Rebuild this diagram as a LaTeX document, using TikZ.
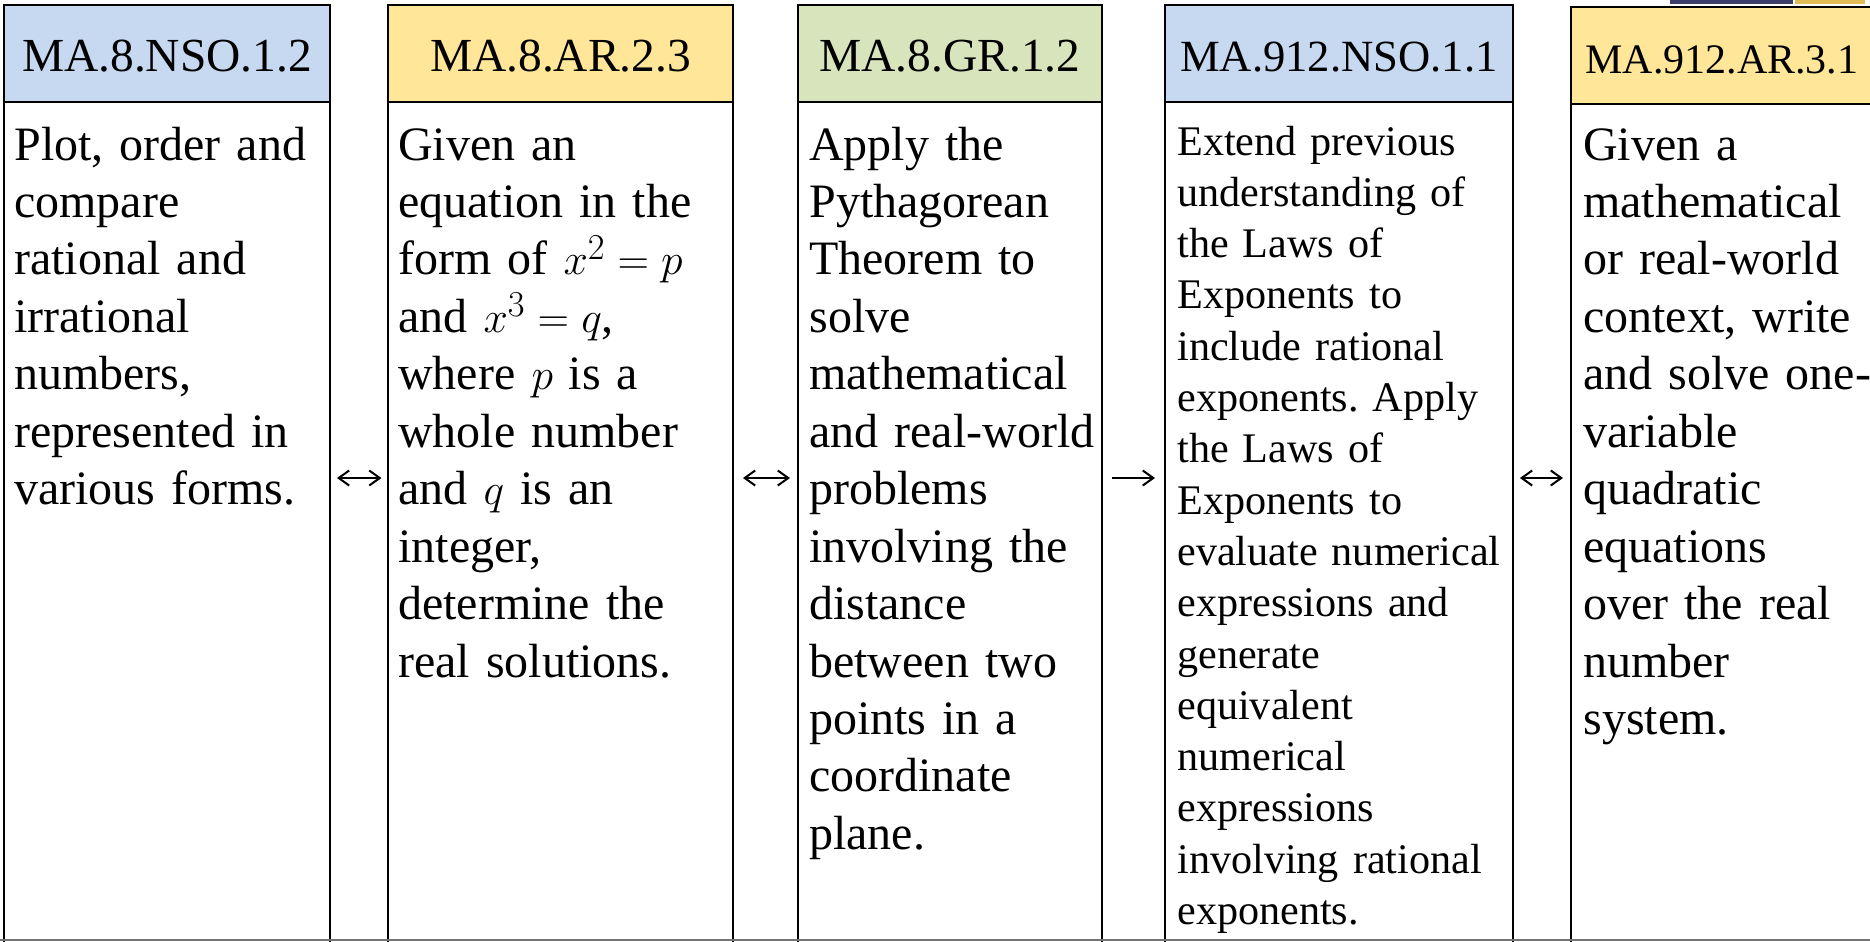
\documentclass[tikz,border=0pt]{standalone}
\usepackage{fontspec}
\setmainfont{Liberation Serif}
\usetikzlibrary{arrows.meta,positioning}
\definecolor{hdblue}{HTML}{C6D9F1}
\definecolor{hdyellow}{HTML}{FFE699}
\definecolor{hdgreen}{HTML}{D8E4BC}
\definecolor{slidenavy}{HTML}{3D3D6B}
\definecolor{slidegold}{HTML}{E0BD57}
\frenchspacing

\begin{document}
\begin{tikzpicture}[x=0.02cm,y=-0.02cm,>={Straight Barb[length=2.1mm,width=3mm]},
  hd/.style={draw,line width=1.3pt,outer sep=0pt,inner sep=0pt,anchor=north west,
    minimum height=1.94cm,text height=0.74cm,text depth=0pt},
  frame/.style={draw,line width=1.3pt,outer sep=0pt,inner sep=0pt,minimum height=16.86cm},
  txt/.style={anchor=base west,inner sep=0pt,align=left,text width=8cm,
    font=\fontsize{27.3}{32.7}\selectfont},
  txtsm/.style={txt,font=\fontsize{24}{29.2}\selectfont},
  arr/.style={line width=1.15pt}]
\path[use as bounding box,clip] (0,0) rectangle (1870,941);
\foreach \n/\x/\y/\w/\c/\fs/\lab in {1/4/5/6.52/hdblue/27/MA.8.NSO.1.2,
    2/388/5/6.90/hdyellow/27/MA.8.AR.2.3, 3/798/5/6.08/hdgreen/27/MA.8.GR.1.2,
    4/1165/5/6.96/hdblue/25.4/MA.912.NSO.1.1, 5/1571/7/6.04/hdyellow/23.9/MA.912.AR.3.1} {
  \node[hd,fill=\c,minimum width=\w cm,font=\fontsize{\fs}{\fs}\selectfont] (h\n) at (\x,\y) {\lab};
  \node[frame,minimum width=\w cm,below=0pt of h\n] (b\n) {};
}
\node[txt] (t1) at (14,160) {Plot, order and\\compare\\rational and\\irrational\\numbers,\\represented in\\various forms.};
\node[txt] (t2) at (398,160) {Given an\\equation in the\\form of $x^2=p$\\and $x^3=q$,\\where $p$ is a\\whole number\\and $q$ is an\\integer,\\determine the\\real solutions.};
\node[txt] (t3) at (809,160) {Apply the\\Pythagorean\\Theorem to\\solve\\mathematical\\and real-world\\problems\\involving the\\distance\\between two\\points in a\\coordinate\\plane.};
\node[txtsm] (t4) at (1177,155) {Extend previous\\understanding of\\the Laws of\\Exponents to\\include rational\\exponents. Apply\\the Laws of\\Exponents to\\evaluate numerical\\expressions and\\generate\\equivalent\\numerical\\expressions\\involving rational\\exponents.};
\node[txt] (t5) at (1583,160) {Given a\\mathematical\\or real-world\\context, write\\and solve one-\\variable\\quadratic\\equations\\over the real\\number\\system.};
% links between the standards
\coordinate (mid) at (0,478);
\draw[arr,<->,shorten <=0.14cm,shorten >=0.13cm] (b1.east |- mid) -- (b2.west |- mid);
\draw[arr,<->,shorten <=0.2cm,shorten >=0.16cm] (b2.east |- mid) -- (b3.west |- mid);
\draw[arr,->,shorten <=0.2cm,shorten >=0.2cm] (b3.east |- mid) -- (b4.west |- mid);
\draw[arr,<->,shorten <=0.14cm,shorten >=0.16cm] (b4.east |- mid) -- (b5.west |- mid);
\draw[black!55,line width=0.04cm] (0,940) -- (1870,940);
\fill[slidenavy] (1670,0) rectangle (1793,4);
\fill[slidegold] (1795,0) rectangle (1865,4);
\end{tikzpicture}
\end{document}
